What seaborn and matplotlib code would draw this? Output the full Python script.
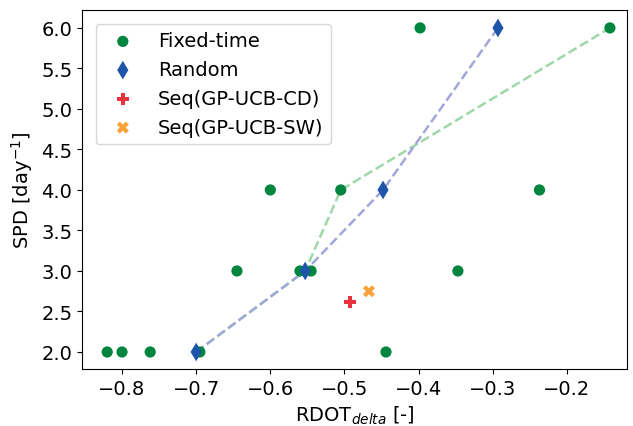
import seaborn as sns
import matplotlib
matplotlib.use('Agg')
import matplotlib.pyplot as plt

# Fixed-time points
fixed_x = [-0.82, -0.80, -0.762, -0.695, -0.645, -0.60, -0.56, -0.545, -0.505, -0.444, -0.398, -0.347, -0.237, -0.142]
fixed_y = [2.0, 2.0, 2.0, 2.0, 3.0, 4.0, 3.0, 3.0, 4.0, 2.0, 6.0, 3.0, 4.0, 6.0]

# Random points
rand_x = [-0.70, -0.553, -0.448, -0.293]
rand_y = [2.0, 3.0, 4.0, 6.0]

# Sequential strategies
cd_x, cd_y = [-0.493], [2.62]
sw_x, sw_y = [-0.467], [2.75]

# Front lines
front_fixed_x = [-0.70, -0.553, -0.505, -0.142]
front_fixed_y = [2.0, 3.0, 4.0, 6.0]
front_rand_x = [-0.70, -0.553, -0.448, -0.293]
front_rand_y = [2.0, 3.0, 4.0, 6.0]

plt.rcParams['font.size'] = 14
fig, ax = plt.subplots(figsize=(6.33, 4.27), dpi=100)

sns.lineplot(x=front_fixed_x, y=front_fixed_y, sort=False, ax=ax, color='#9fd8a8',
             linestyle='--', linewidth=1.8, zorder=1)
sns.lineplot(x=front_rand_x, y=front_rand_y, sort=False, ax=ax, color='#a3a6d8',
             linestyle='--', linewidth=1.8, zorder=1)

sns.scatterplot(x=fixed_x, y=fixed_y, ax=ax, color='#00853f', marker='o', s=65,
                edgecolor='none', label='Fixed-time', zorder=2)
sns.scatterplot(x=rand_x, y=rand_y, ax=ax, color='#1f55a8', marker='d', s=90,
                edgecolor='none', label='Random', zorder=3)
sns.scatterplot(x=cd_x, y=cd_y, ax=ax, color='#e8323c', marker='P', s=75,
                edgecolor='none', label='Seq(GP-UCB-CD)', zorder=3)
sns.scatterplot(x=sw_x, y=sw_y, ax=ax, color='#f7a23a', marker='X', s=75,
                edgecolor='none', label='Seq(GP-UCB-SW)', zorder=3)

ax.set_xlim(-0.854, -0.119)
ax.set_ylim(1.79, 6.22)
ax.set_yticks([2.0, 2.5, 3.0, 3.5, 4.0, 4.5, 5.0, 5.5, 6.0])
ax.set_xlabel('RDOT$_{delta}$ [-]')
ax.set_ylabel('SPD [day$^{-1}$]')
ax.legend(loc='upper left', fontsize=14, borderaxespad=0.7)

plt.subplots_adjust(left=0.1295, right=0.9905, top=0.974, bottom=0.1335)
plt.savefig('out.png', dpi=100)
